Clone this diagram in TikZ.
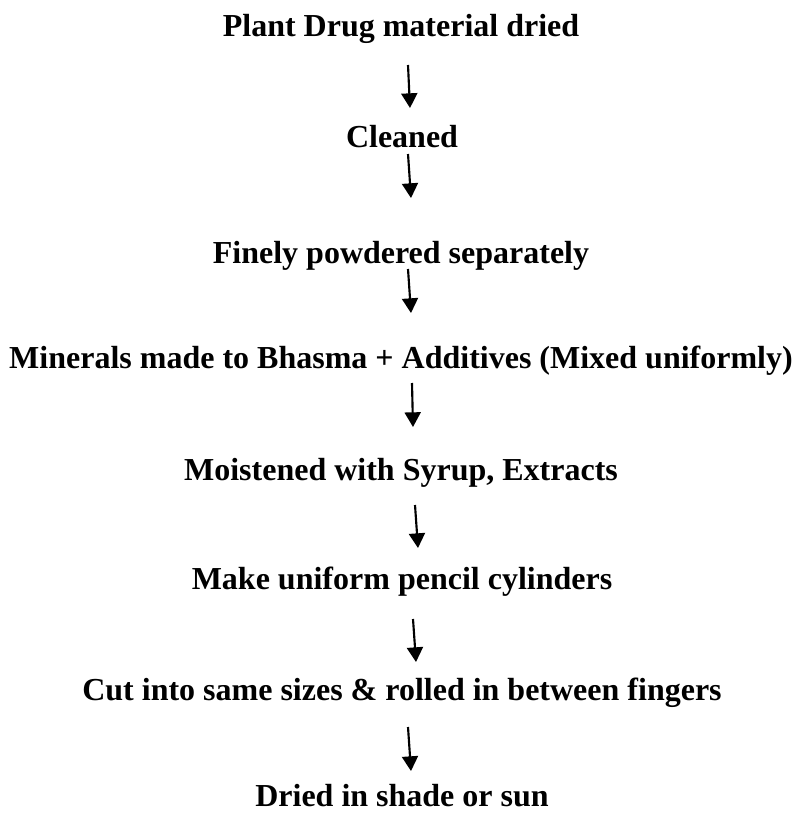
\documentclass[tikz,border=0pt]{standalone}
\usepackage{fontspec}
\setmainfont{Liberation Serif}
\usetikzlibrary{arrows.meta,calc}
\tikzset{
  stage/.style={anchor=base, inner sep=0pt, font=\fontsize{24}{28}\selectfont\bfseries},
  flow/.style={line width=1.6pt, -{Triangle[width=12pt,length=11pt]}}
}

\begin{document}
\begin{tikzpicture}[x=0.75pt,y=-0.75pt]
\useasboundingbox (0,0) rectangle (794,813);
% the steps
\node[stage] (plant) at (401,37) {Plant Drug material dried};
\node[stage] (clean) at (402,147) {Cleaned};
\node[stage] (fine) at (401,263) {Finely powdered separately};
\node[stage] (mineral) at (401,368) {Minerals made to Bhasma + Additives (Mixed uniformly)};
\node[stage] (moist) at (401,480) {Moistened with Syrup, Extracts};
\node[stage] (make) at (402,589) {Make uniform pencil cylinders};
\node[stage] (cut) at (402,700) {Cut into same sizes \& rolled in between fingers};
\node[stage] (dried) at (402,806) {Dried in shade or sun};
% arrows
\draw[flow] ($(plant.base)+(7,28)$) -- ($(clean.base)+(8,-39)$);
\draw[flow] ($(clean.base)+(6,7)$) -- ($(fine.base)+(10,-65)$);
\draw[flow] ($(fine.base)+(7,6)$) -- ($(mineral.base)+(10,-55)$);
\draw[flow] ($(mineral.base)+(11,15)$) -- ($(moist.base)+(12,-53)$);
\draw[flow] ($(moist.base)+(14,25)$) -- ($(make.base)+(16,-41)$);
\draw[flow] ($(make.base)+(11,30)$) -- ($(cut.base)+(14,-38)$);
\draw[flow] ($(cut.base)+(6,27)$) -- ($(dried.base)+(9,-35)$);
\end{tikzpicture}
\end{document}
